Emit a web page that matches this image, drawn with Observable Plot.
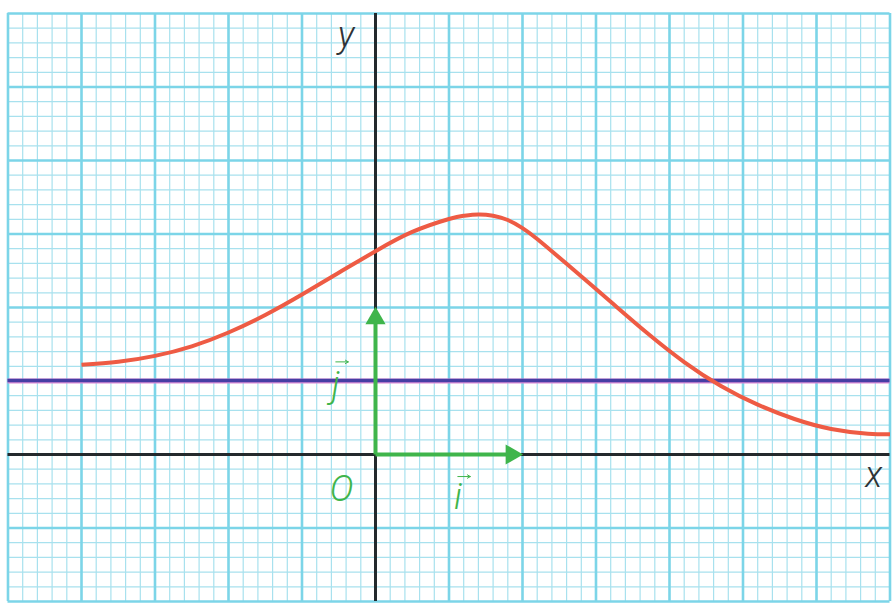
<!DOCTYPE html>
<html>
<head>
<meta charset="utf-8">
<script src="https://cdn.jsdelivr.net/npm/d3@7"></script>
<script src="https://cdn.jsdelivr.net/npm/@observablehq/plot@0.6"></script>
<style>
  html, body { margin: 0; padding: 0; background: #ffffff; }
  #chart svg { display: block; }
</style>
</head>
<body>
<div id="chart"></div>
<script>
// Red curve (units of i / j)
const curveX = [-2.0, -1.75, -1.5, -1.25, -1.0, -0.75, -0.5, -0.25, 0.0, 0.25, 0.5, 0.6, 0.7, 0.8, 0.9, 1.0, 1.1, 1.3, 1.6, 1.85, 2.1, 2.35, 2.6, 2.85, 3.1, 3.35, 3.5];
const curveY = [0.61, 0.631, 0.671, 0.736, 0.83, 0.949, 1.088, 1.237, 1.383, 1.514, 1.602, 1.624, 1.633, 1.624, 1.595, 1.54, 1.466, 1.297, 1.039, 0.825, 0.629, 0.466, 0.339, 0.2415, 0.174, 0.1415, 0.137];
// Horizontal asymptote line
const asymptoteY = 0.5;
// Paper extent
const paperX = [-2.5, 3.5];
const paperY = [-1.0, 3.0];
// Unit vectors
const vecI = [1, 0];
const vecJ = [0, 1];
// Labels
const labelText = ["O", "i", "j", "x", "y"];
const labelX = [-0.23, 0.56, -0.27, 3.39, -0.2];
const labelY = [-0.24, -0.29, 0.47, -0.14, 2.85];
const labelColor = ["#3fb54b", "#3fb54b", "#3fb54b", "#2f3336", "#2f3336"];
// little vector arrows over i and j
const overArrowX = [0.6, -0.23];
const overArrowY = [-0.15, 0.63];

const U = 147, OX = 375, OY = 454, W = 896, H = 609;
const xDomain = [-OX / U, (W - OX) / U];
const yDomain = [(OY - H) / U, OY / U];

const minorX = d3.range(-25, 36).map(d => d / 10).filter(d => Math.round(d * 10) % 5 !== 0);
const majorX = d3.range(-25, 36, 5).map(d => d / 10).filter(d => d !== 0);
const minorY = d3.range(-10, 31).map(d => d / 10).filter(d => Math.round(d * 10) % 5 !== 0);
const majorY = d3.range(-10, 31, 5).map(d => d / 10).filter(d => d !== 0);

const curve = curveX.map((x, i) => ({x, y: curveY[i]}));
const labels = labelText.map((t, i) => ({t, x: labelX[i], y: labelY[i], c: labelColor[i]}));
const overArrows = overArrowX.map((x, i) => ({x1: x - 0.04, x2: x + 0.045, y: overArrowY[i]}));

const headOffset = 0.075;
const green = "#3fb54b";

const chart = Plot.plot({
  width: W,
  height: H,
  margin: 0,
  x: {domain: xDomain, axis: null},
  y: {domain: yDomain, axis: null},
  style: {background: "#ffffff"},
  marks: [
    // minor grid
    Plot.ruleX(minorX, {y1: paperY[0], y2: paperY[1], stroke: "#a8e1ee", strokeWidth: 1.2}),
    Plot.ruleY(minorY, {x1: paperX[0], x2: paperX[1], stroke: "#a8e1ee", strokeWidth: 1.2}),
    // major grid
    Plot.ruleX(majorX, {y1: paperY[0], y2: paperY[1], stroke: "#7cd5e8", strokeWidth: 2.6}),
    Plot.ruleY(majorY, {x1: paperX[0], x2: paperX[1], stroke: "#7cd5e8", strokeWidth: 2.6}),
    // axes
    Plot.ruleY([0], {x1: paperX[0], x2: paperX[1], stroke: "#23292d", strokeWidth: 3}),
    Plot.ruleX([0], {y1: paperY[0], y2: paperY[1], stroke: "#23292d", strokeWidth: 3}),
    // asymptote
    Plot.ruleY([asymptoteY], {x1: paperX[0], x2: paperX[1], stroke: "#d98ad6", strokeWidth: 5}),
    Plot.ruleY([asymptoteY], {x1: paperX[0], x2: paperX[1], stroke: "#463ea4", strokeWidth: 3.5, dy: -0.6}),
    // curve
    Plot.line(curve, {x: "x", y: "y", curve: "natural", stroke: "#ee5b44", strokeWidth: 4, strokeLinecap: "butt"}),
    // unit vectors
    Plot.link([{x1: 0, y1: 0, x2: vecI[0] - headOffset, y2: vecI[1]}], {x1: "x1", y1: "y1", x2: "x2", y2: "y2", stroke: green, strokeWidth: 4}),
    Plot.link([{x1: 0, y1: 0, x2: vecJ[0], y2: vecJ[1] - headOffset}], {x1: "x1", y1: "y1", x2: "x2", y2: "y2", stroke: green, strokeWidth: 4}),
    Plot.dot([{x: vecI[0] - headOffset, y: vecI[1]}], {x: "x", y: "y", symbol: "triangle", r: 7.5, fill: green, stroke: "none", rotate: 90}),
    Plot.dot([{x: vecJ[0], y: vecJ[1] - headOffset}], {x: "x", y: "y", symbol: "triangle", r: 7.5, fill: green, stroke: "none", rotate: 0}),
    // labels
    Plot.text(labels, {x: "x", y: "y", text: "t", fill: "c", fontSize: 36, fontStyle: "italic", fontWeight: 300, fontFamily: "Roboto, 'Liberation Sans', sans-serif", textAnchor: "middle", lineAnchor: "middle"}),
    Plot.arrow(overArrows, {x1: "x1", x2: "x2", y1: "y", y2: "y", stroke: green, strokeWidth: 1, headLength: 5})
  ]
});
document.getElementById("chart").appendChild(chart);
</script>
</body>
</html>
